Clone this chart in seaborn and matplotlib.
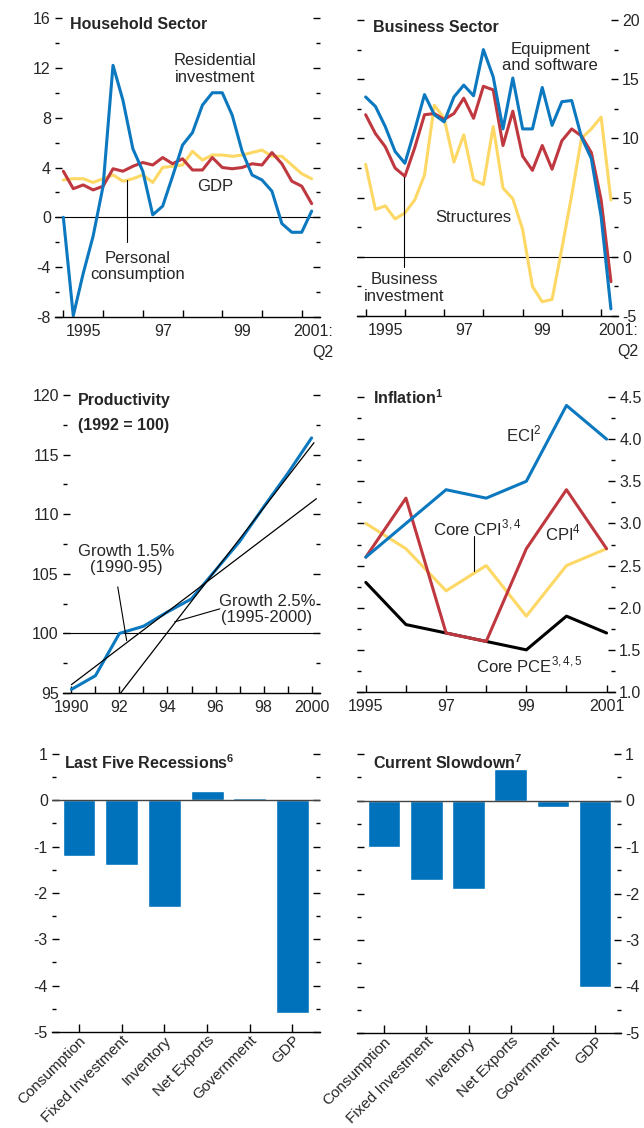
import pandas as pd
import matplotlib
matplotlib.use('Agg')
import matplotlib.pyplot as plt
from matplotlib.ticker import MultipleLocator, FixedLocator
import seaborn as sns

# ---- data ----
# quarterly, 1995Q1 .. 2001Q2 (annualized % change)
quarters = pd.period_range('1995Q1', '2001Q2', freq='Q')
qx = [p.year + (p.quarter - 1) / 4 for p in quarters]

resid_inv = [0.0, -7.9, -4.5, -1.5, 2.5, 12.2, 9.4, 5.5, 3.7, 0.2, 0.9, 3.3, 5.8,
             6.8, 9.0, 10.0, 10.0, 8.2, 5.3, 3.4, 3.0, 2.1, -0.5, -1.2, -1.2, 0.5]
gdp_q = [3.7, 2.3, 2.6, 2.2, 2.5, 3.9, 3.7, 4.1, 4.4, 4.2, 4.8, 4.3, 4.7,
         3.8, 3.8, 4.8, 4.0, 3.9, 4.0, 4.3, 4.2, 5.2, 4.3, 2.9, 2.5, 1.1]
pers_cons = [3.0, 3.1, 3.1, 2.8, 3.1, 3.4, 2.9, 3.1, 3.4, 2.8, 4.0, 4.1, 4.2,
             5.3, 4.6, 5.0, 5.0, 4.9, 5.0, 5.2, 5.4, 4.9, 4.9, 4.2, 3.5, 3.1]

equip_sw = [13.5, 12.7, 11.0, 8.9, 7.9, 10.7, 13.7, 12.0, 11.4, 13.5, 14.5, 13.6, 17.5,
            15.2, 10.8, 15.1, 10.8, 10.8, 14.3, 11.1, 13.1, 13.2, 10.1, 8.3, 3.4, -4.4]
bus_inv = [12.0, 10.4, 9.3, 7.5, 6.8, 9.2, 12.0, 12.1, 11.6, 12.1, 13.4, 11.7, 14.4,
           14.1, 9.4, 12.3, 8.5, 7.3, 9.4, 7.4, 9.8, 10.8, 10.2, 8.8, 4.8, -2.1]
structures = [7.8, 4.0, 4.3, 3.2, 3.7, 4.8, 6.9, 12.8, 11.7, 8.0, 10.3, 6.5, 6.1,
              11.0, 5.8, 4.9, 2.3, -2.5, -3.8, -3.6, 0.7, 5.2, 10.0, 10.8, 11.8, 4.8]

prod_years = [1990, 1991, 1992, 1993, 1994, 1995, 1996, 1997, 1998, 1999, 2000]
productivity = [95.3, 96.45, 100.0, 100.6, 101.8, 102.9, 105.3, 107.7, 110.6, 113.4, 116.4]
trend1_years = [1990, 2000.2]   # growth 1.5% (1990-95)
trend1_vals = [95.7, 111.3]
trend2_years = [1992.05, 2000.1]  # growth 2.5% (1995-2000)
trend2_vals = [95.0, 116.0]

infl_years = [1995, 1996, 1997, 1998, 1999, 2000, 2001]
eci = [2.6, 3.0, 3.4, 3.3, 3.5, 4.4, 4.0]
cpi = [2.6, 3.3, 1.7, 1.6, 2.7, 3.4, 2.7]
core_cpi = [3.0, 2.7, 2.2, 2.5, 1.9, 2.5, 2.7]
core_pce = [2.3, 1.8, 1.7, 1.6, 1.5, 1.9, 1.7]

components = ['Consumption', 'Fixed Investment', 'Inventory', 'Net Exports', 'Government', 'GDP']
last_five = [-1.2, -1.4, -2.3, 0.2, 0.05, -4.6]
current_slow = [-1.0, -1.7, -1.9, 0.67, -0.15, -4.0]

# ---- style ----
BLUE = '#0b78bf'
RED = '#c0383f'
YELLOW = '#fdd865'
BAR = '#0072bc'

sns.set_style('white')
plt.rcParams['font.family'] = ['Liberation Sans', 'DejaVu Sans']
plt.rcParams['axes.unicode_minus'] = False
plt.rcParams['mathtext.fontset'] = 'custom'
plt.rcParams['mathtext.rm'] = 'Liberation Sans'
plt.rcParams['mathtext.bf'] = 'Liberation Sans:bold'

W, H = 644, 1128
fig = plt.figure(figsize=(W / 100, H / 100), dpi=100)


def add_ax(l, t, r, b):
    return fig.add_axes([l / W, 1 - b / H, (r - l) / W, (b - t) / H])


def style_ax(ax, side, ymaj, ymin):
    for s in ['top', 'left', 'right']:
        ax.spines[s].set_visible(False)
    ax.spines['bottom'].set_color('black')
    ax.spines['bottom'].set_linewidth(1.0)
    ax.yaxis.set_major_locator(MultipleLocator(ymaj))
    ax.yaxis.set_minor_locator(MultipleLocator(ymin))
    ax.tick_params(axis='y', which='both', left=True, right=True,
                   labelleft=(side == 'left'), labelright=(side == 'right'),
                   direction='in', color='black', width=1.0, pad=3, labelsize=11.5)
    ax.tick_params(axis='y', which='major', length=5)
    ax.tick_params(axis='y', which='minor', length=3)
    ax.tick_params(axis='x', which='major', bottom=True, direction='in',
                   length=5, width=1.0, color='black', labelsize=11.5, pad=5)
    ax.set_xlabel('')
    ax.set_ylabel('')
    ax.grid(False)


def quarter_xaxis(ax, last_pos):
    ax.xaxis.set_major_locator(FixedLocator(infl_years))
    ax.set_xticklabels([])
    ax.xaxis.set_minor_locator(FixedLocator([1995.5, 1997.5, 1999.5]))
    ax.set_xticklabels(['1995', '97', '99'], minor=True)
    ax.tick_params(axis='x', which='minor', length=0, labelsize=11.5, pad=5)
    # last label sits past the final tick, so place it as free text
    ax.text(last_pos, -0.025, '2001:\nQ2', transform=ax.get_xaxis_transform(),
            fontsize=11.5, ha='center', va='top', multialignment='right',
            linespacing=1.45, clip_on=False)


TXT = dict(fontsize=12, ha='center', va='center', linespacing=1.1)

# ---- Household sector ----
ax1 = add_ax(55, 18, 320, 317)
sns.lineplot(x=qx, y=pers_cons, color=YELLOW, lw=2.2, ax=ax1)
sns.lineplot(x=qx, y=gdp_q, color=RED, lw=2.2, ax=ax1)
sns.lineplot(x=qx, y=resid_inv, color=BLUE, lw=2.2, ax=ax1)
ax1.axhline(0, color='black', lw=0.8, zorder=1)
ax1.set_xlim(1994.79, 2001.46)
ax1.set_ylim(-8, 16)
style_ax(ax1, 'left', 4, 2)
quarter_xaxis(ax1, 2001.3)
ax1.text(0.055, 0.977, 'Household Sector', transform=ax1.transAxes, fontsize=11.5,
         fontweight='bold', va='center', ha='left')
ax1.text(1998.82, 11.9, 'Residential\ninvestment', **TXT)
ax1.text(1998.82, 2.45, 'GDP', **TXT)
ax1.text(1996.88, -3.95, 'Personal\nconsumption', **TXT)
ax1.plot([1996.6, 1996.6], [3.0, -2.0], color='black', lw=0.8)

# ---- Business sector ----
ax2 = add_ax(357, 20, 618, 316)
sns.lineplot(x=qx, y=structures, color=YELLOW, lw=2.2, ax=ax2)
sns.lineplot(x=qx, y=bus_inv, color=RED, lw=2.2, ax=ax2)
sns.lineplot(x=qx, y=equip_sw, color=BLUE, lw=2.2, ax=ax2)
ax2.axhline(0, color='black', lw=0.8, zorder=1)
ax2.set_xlim(1994.78, 2001.43)
ax2.set_ylim(-5, 20)
style_ax(ax2, 'right', 5, 2.5)
quarter_xaxis(ax2, 2001.43)
ax2.text(0.061, 0.976, 'Business Sector', transform=ax2.transAxes, fontsize=11.5,
         fontweight='bold', va='center', ha='left')
ax2.text(1999.7, 16.8, 'Equipment\nand software', **TXT)
ax2.text(1997.74, 3.36, 'Structures', **TXT)
ax2.text(1995.98, -2.64, 'Business\ninvestment', **TXT)
ax2.plot([1995.98, 1995.98], [6.74, -0.86], color='black', lw=0.8)

# ---- Productivity ----
ax3 = add_ax(63, 395, 320, 693)
ax3.axhline(100, color='black', lw=0.8, zorder=1)
sns.lineplot(x=prod_years, y=productivity, color=BLUE, lw=2.2, ax=ax3)
ax3.plot(trend1_years, trend1_vals, color='black', lw=0.9)
ax3.plot(trend2_years, trend2_vals, color='black', lw=0.9)
ax3.set_xlim(1989.65, 2000.35)
ax3.set_ylim(95, 120)
style_ax(ax3, 'left', 5, 2.5)
ax3.xaxis.set_major_locator(FixedLocator(prod_years))
ax3.set_xticklabels(['1990', '', '92', '', '94', '', '96', '', '98', '', '2000'])
ax3.text(0.058, 0.983, 'Productivity', transform=ax3.transAxes, fontsize=11.5,
         fontweight='bold', va='center', ha='left')
ax3.text(0.058, 0.899, '(1992 = 100)', transform=ax3.transAxes, fontsize=11.5,
         fontweight='bold', va='center', ha='left')
ax3.text(1992.3, 106.2, 'Growth 1.5%\n(1990-95)', **TXT)
ax3.plot([1991.93, 1992.3], [103.9, 99.4], color='black', lw=0.8)
ax3.text(1998.14, 102.0, 'Growth 2.5%\n(1995-2000)', **TXT)
ax3.plot([1996.18, 1994.3], [102.06, 100.97], color='black', lw=0.8)

# ---- Inflation ----
ax4 = add_ax(357, 397, 615, 692)
sns.lineplot(x=infl_years, y=core_cpi, color=YELLOW, lw=2.2, ax=ax4)
sns.lineplot(x=infl_years, y=core_pce, color='black', lw=2.2, ax=ax4)
sns.lineplot(x=infl_years, y=cpi, color=RED, lw=2.2, ax=ax4)
sns.lineplot(x=infl_years, y=eci, color=BLUE, lw=2.2, ax=ax4)
ax4.set_xlim(1994.78, 2001.21)
ax4.set_ylim(1.0, 4.5)
style_ax(ax4, 'right', 0.5, 0.25)
ax4.yaxis.set_major_formatter(matplotlib.ticker.FormatStrFormatter('%.1f'))
ax4.xaxis.set_major_locator(FixedLocator(infl_years))
ax4.set_xticklabels(['1995', '', '97', '', '99', '', '2001'])
ax4.text(0.062, 0.997, r'Inflation$^{\mathbf{1}}$', transform=ax4.transAxes,
         fontsize=11.5, fontweight='bold', va='center', ha='left')
ax4.text(1998.94, 4.06, r'ECI$^{\mathrm{2}}$', **TXT)
ax4.text(1997.77, 2.94, r'Core CPI$^{\mathrm{3,4}}$', **TXT)
ax4.plot([1997.7, 1997.7], [2.85, 2.44], color='black', lw=0.8)
ax4.text(1999.91, 2.88, r'CPI$^{\mathrm{4}}$', **TXT)
ax4.text(1999.09, 1.32, r'Core PCE$^{\mathrm{3,4,5}}$', **TXT)

# ---- Bars ----
def bar_panel(ax, vals, side, title, xlim, title_x):
    sns.barplot(x=components, y=vals, color=BAR, saturation=1, width=0.77, ax=ax, zorder=2)
    ax.axhline(0, color='#444444', lw=1.0, zorder=3)
    ax.set_ylim(-5, 1)
    ax.set_xlim(*xlim)
    style_ax(ax, side, 1, 0.5)
    ax.tick_params(axis='x', length=6, pad=1, labelsize=11)
    for lab in ax.get_xticklabels():
        lab.set_rotation(45)
        lab.set_ha('right')
        lab.set_rotation_mode('anchor')
    ax.text(title_x, 0.82, title, fontsize=11.5, fontweight='bold',
            va='center', ha='left')


ax5 = add_ax(52, 754, 320, 1032)
bar_panel(ax5, last_five, 'left', r'Last Five Recessions$^{\mathbf{6}}$', (-0.632, 5.644), -0.34)
ax6 = add_ax(357, 754, 621, 1033)
bar_panel(ax6, current_slow, 'right', r'Current Slowdown$^{\mathbf{7}}$', (-0.64, 5.61), -0.27)

fig.savefig('out.png', dpi=100)
